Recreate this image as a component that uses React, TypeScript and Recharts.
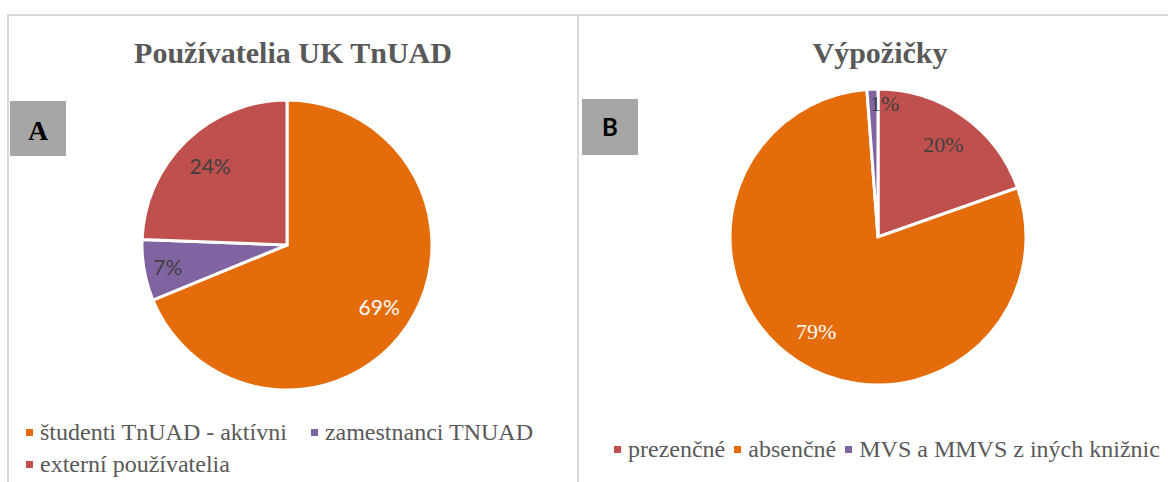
import React from 'react';
import { PieChart, Pie, Cell } from 'recharts';

// Používatelia UK TnUAD
const userNames = ['študenti TnUAD - aktívni', 'zamestnanci TNUAD', 'externí používatelia'];
const userShares = [68.8, 6.8, 24.4];
const userColors = ['#E46C0A', '#8064A2', '#C0504D'];

// Výpožičky
const loanNames = ['prezenčné', 'absenčné', 'MVS a MMVS z iných knižnic'];
const loanShares = [19.6, 79.2, 1.2];
const loanColors = ['#C0504D', '#E46C0A', '#8064A2'];

const userRows = userNames.map((name, i) => ({ name, value: userShares[i] }));
const loanRows = loanNames.map((name, i) => ({ name, value: loanShares[i] }));

const RADIAN = Math.PI / 180;
const SERIF = '"Liberation Serif", "Times New Roman", serif';
const SANS = 'Lato, "Noto Sans", sans-serif';

function makeLabel(fontFamily: string, fontSize: number) {
  return (props: any) => {
    const { cx, cy, midAngle, outerRadius, percent } = props;
    let k = 0.765;
    if (percent < 0.03) k = 0.9;
    else if (percent < 0.1) k = 0.835;
    const x = cx + outerRadius * k * Math.cos(-midAngle * RADIAN);
    const y = cy + outerRadius * k * Math.sin(-midAngle * RADIAN);
    const tiny = percent < 0.03;
    return (
      <text
        x={tiny ? x - 3 : x}
        y={y}
        textAnchor={tiny ? 'start' : 'middle'}
        dominantBaseline="central"
        fontFamily={fontFamily}
        fontSize={fontSize}
        fill={percent > 0.5 ? '#ffffff' : '#404040'}
      >
        {`${Math.round(percent * 100)}%`}
      </text>
    );
  };
}

function LegendList({ names, colors, style }: { names: string[]; colors: string[]; style: React.CSSProperties }) {
  return (
    <div
      style={{
        position: 'absolute',
        display: 'flex',
        flexWrap: 'wrap',
        fontFamily: SERIF,
        fontSize: 24,
        lineHeight: '32px',
        color: '#595959',
        ...style,
      }}
    >
      {names.map((n, i) => (
        <div key={n} style={{ display: 'flex', alignItems: 'center', whiteSpace: 'nowrap' }}>
          <span style={{ width: 7, height: 7, background: colors[i], marginRight: 7, display: 'inline-block' }} />
          <span>{n}</span>
        </div>
      ))}
    </div>
  );
}

export default function App() {
  const line = '#d9d9d9';
  return (
    <div style={{ position: 'absolute', left: 0, top: 0, width: 1168, height: 482, background: '#fff', overflow: 'hidden' }}>
      {/* frames */}
      <div style={{ position: 'absolute', left: 8, top: 14, width: 1160, height: 2, background: line }} />
      <div style={{ position: 'absolute', left: 7, top: 14, width: 2, height: 468, background: line }} />
      <div style={{ position: 'absolute', left: 577, top: 14, width: 2, height: 468, background: line }} />

      <div style={{ position: 'absolute', left: 0, top: 0 }}>
        <PieChart width={1168} height={482} margin={{ top: 0, right: 0, bottom: 0, left: 0 }}>
          <Pie
            data={userRows}
            dataKey="value"
            nameKey="name"
            cx={287}
            cy={245}
            outerRadius={145}
            startAngle={90}
            endAngle={-270}
            stroke="#ffffff"
            strokeWidth={3}
            labelLine={false}
            label={makeLabel(SANS, 21)}
            isAnimationActive={false}
          >
            {userRows.map((r, i) => (
              <Cell key={r.name} fill={userColors[i]} />
            ))}
          </Pie>
          <Pie
            data={loanRows}
            dataKey="value"
            nameKey="name"
            cx={878}
            cy={237}
            outerRadius={148}
            startAngle={90}
            endAngle={-270}
            stroke="#ffffff"
            strokeWidth={3}
            labelLine={false}
            label={makeLabel(SERIF, 22)}
            isAnimationActive={false}
          >
            {loanRows.map((r, i) => (
              <Cell key={r.name} fill={loanColors[i]} />
            ))}
          </Pie>
        </PieChart>
      </div>

      <svg width={1168} height={482} style={{ position: 'absolute', left: 0, top: 0, pointerEvents: 'none' }}>
        <text x={293} y={63} textAnchor="middle" fontFamily={SERIF} fontWeight="bold" fontSize={30} fill="#595959">
          Používatelia UK TnUAD
        </text>
        <text x={880} y={63} textAnchor="middle" fontFamily={SERIF} fontWeight="bold" fontSize={30} fill="#595959">
          Výpožičky
        </text>
        <rect x={10} y={101} width={56} height={55} fill="#a6a6a6" />
        <text x={38} y={140} textAnchor="middle" fontFamily={SERIF} fontWeight="bold" fontSize={28} fill="#000">
          A
        </text>
        <rect x={582} y={99} width={56} height={56} fill="#a6a6a6" />
        <text x={610} y={136} textAnchor="middle" fontFamily={SANS} fontWeight="bold" fontSize={24} fill="#000">
          B
        </text>
      </svg>

      <LegendList names={userNames} colors={userColors} style={{ left: 26, top: 416, width: 520, columnGap: 24 }} />
      <LegendList
        names={loanNames}
        colors={loanColors}
        style={{ left: 614, top: 433, width: 700, flexWrap: 'nowrap', columnGap: 9 }}
      />
    </div>
  );
}
